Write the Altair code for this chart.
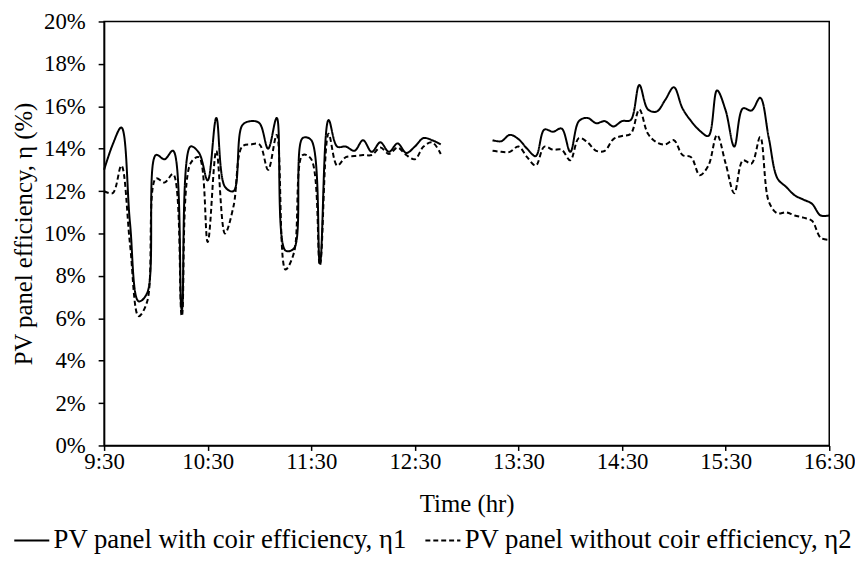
import altair as alt
import pandas as pd

# minutes after 9:30
minutes_am = [0, 5, 10, 15, 20, 25, 30, 35, 40, 45, 50, 55, 60, 65, 70, 75, 80, 85, 90, 95,
              100, 105, 110, 115, 120, 125, 130, 135, 140, 145, 150, 155, 160, 165, 170, 175, 180, 185, 190, 195]
minutes_pm = [225, 230, 235, 240, 245, 250, 255, 260, 265, 270, 275, 280, 285, 290, 295, 300, 305, 310, 315, 320,
              325, 330, 335, 340, 345, 350, 355, 360, 365, 370, 375, 380, 385, 390, 395, 400, 405, 410, 415, 420]

eta1_am = [13.0, 14.2, 15.0, 10.5, 6.8, 7.2, 13.7, 13.5, 13.9, 6.4,
           14.1, 13.8, 12.5, 15.45, 12.2, 12.0, 15.1, 15.3, 15.2, 14.0,
           15.45, 9.2, 9.3, 14.5, 14.4, 8.6, 15.35, 14.1, 14.1, 13.9,
           14.4, 13.85, 14.3, 13.85, 14.25, 13.8, 14.1, 14.5, 14.4, 14.2]
eta2_am = [12.0, 11.9, 13.2, 9.5, 6.1, 6.8, 12.6, 12.4, 12.8, 6.1,
           13.3, 13.6, 9.6, 13.9, 10.0, 11.3, 14.1, 14.2, 14.2, 13.0,
           14.65, 8.3, 9.1, 13.7, 13.5, 8.5, 14.7, 13.2, 13.6, 13.65,
           13.7, 13.7, 14.05, 13.75, 14.05, 13.7, 13.5, 14.1, 14.3, 13.75]
eta1_pm = [14.4, 14.35, 14.65, 14.45, 14.0, 13.65, 14.9, 14.8, 14.95, 13.85,
           15.3, 15.45, 15.2, 15.3, 15.05, 15.3, 15.35, 17.0, 15.85, 15.75,
           16.3, 16.9, 15.9, 15.3, 14.85, 14.6, 16.75, 15.8, 14.1, 15.9,
           15.8, 16.4, 14.5, 12.6, 12.2, 11.8, 11.6, 11.4, 10.85, 10.85]
eta2_pm = [13.9, 13.85, 13.85, 14.1, 13.6, 13.2, 14.1, 13.95, 13.95, 13.45,
           14.5, 14.3, 13.9, 13.9, 14.45, 14.6, 14.7, 15.85, 14.7, 14.3,
           14.2, 14.4, 13.7, 13.6, 12.75, 13.2, 14.65, 13.3, 11.9, 13.45,
           13.3, 14.55, 11.5, 10.95, 11.0, 10.85, 10.75, 10.6, 9.8, 9.7]

series_names = ["PV panel with coir efficiency, η1", "PV panel without coir efficiency, η2"]
x_ticks = [0, 60, 120, 180, 240, 300, 360, 420]
y_ticks = [0, 2, 4, 6, 8, 10, 12, 14, 16, 18, 20]

rows = []
for seg, mins, s1, s2 in [("am", minutes_am, eta1_am, eta2_am), ("pm", minutes_pm, eta1_pm, eta2_pm)]:
    for m, a, b in zip(mins, s1, s2):
        rows.append({"min": m, "eff": a, "series": series_names[0], "seg": seg})
        rows.append({"min": m, "eff": b, "series": series_names[1], "seg": seg})
df = pd.DataFrame(rows)

FONT = "Liberation Serif"

chart = alt.Chart(df).mark_line(
    interpolate="catmull-rom", color="black", strokeWidth=2
).encode(
    x=alt.X("min:Q",
            scale=alt.Scale(domain=[0, 420], nice=False, zero=False),
            axis=alt.Axis(values=x_ticks, title="Time (hr)",
                          labelExpr="floor((570 + datum.value) / 60) + ':' + (((570 + datum.value) % 60) < 10 ? '0' : '') + ((570 + datum.value) % 60)",
                          tickSize=5, labelPadding=0, titlePadding=19,
                          labelFlush=False, grid=False)),
    y=alt.Y("eff:Q",
            scale=alt.Scale(domain=[0, 20], nice=False),
            axis=alt.Axis(values=y_ticks, title="PV panel efficiency, η (%)",
                          labelExpr="datum.value + '%'",
                          tickSize=6, labelPadding=13, titlePadding=7, grid=False)),
    strokeDash=alt.StrokeDash("series:N",
                              scale=alt.Scale(domain=series_names, range=[[1, 0], [5, 3]]),
                              legend=alt.Legend(title=None, orient="none", legendX=-92, legendY=505,
                                                direction="horizontal", symbolType="stroke",
                                                symbolSize=1250, symbolStrokeWidth=2,
                                                symbolStrokeColor="black", labelOffset=3,
                                                columnPadding=14, labelFont=FONT, labelFontSize=27,
                                                labelColor="black", labelLimit=600)),
    detail="seg:N",
    order="min:Q",
).properties(
    width=732, height=428,
    autosize=alt.AutoSizeParams(type="none"),
    padding={"left": 97, "top": 11, "right": 26, "bottom": 112},
).configure_view(
    stroke="black", strokeWidth=1.5
).configure_axis(
    labelFont=FONT, titleFont=FONT, labelFontSize=23, titleFontSize=25,
    labelColor="black", titleColor="black", titleFontWeight="normal",
    domainColor="black", tickColor="black", domainWidth=1.5, tickWidth=1.5,
)

chart.save("out.html", embed_options={"renderer": "svg", "actions": False})
